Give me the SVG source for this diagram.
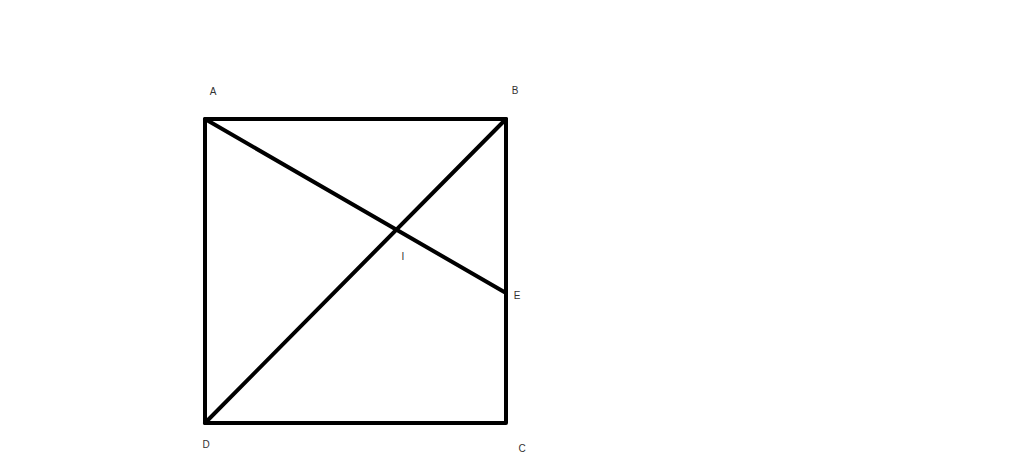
<svg xmlns="http://www.w3.org/2000/svg" width="1024" height="470" viewBox="0 0 1024 470">
<style>
.ln{stroke:#000;stroke-width:4;fill:none;stroke-linecap:round;stroke-linejoin:round}
.lb{font-family:"Liberation Sans",Arial,sans-serif;font-size:10px;fill:#333;text-anchor:middle}
</style>
<rect width="1024" height="470" fill="#fff"/>
<g id="connectors">
<rect class="ln" x="205" y="119" width="301" height="304"/>
<line class="ln" x1="205" y1="119" x2="506" y2="293"/>
<line class="ln" x1="205" y1="423" x2="506" y2="119"/>
</g>
<g id="A"><text class="lb" x="213" y="95">A</text></g>
<g id="B"><text class="lb" x="515" y="94">B</text></g>
<g id="I"><text class="lb" x="403" y="260">I</text></g>
<g id="E"><text class="lb" x="517" y="299">E</text></g>
<g id="D"><text class="lb" x="206" y="448">D</text></g>
<g id="C"><text class="lb" x="522" y="452">C</text></g>
</svg>
